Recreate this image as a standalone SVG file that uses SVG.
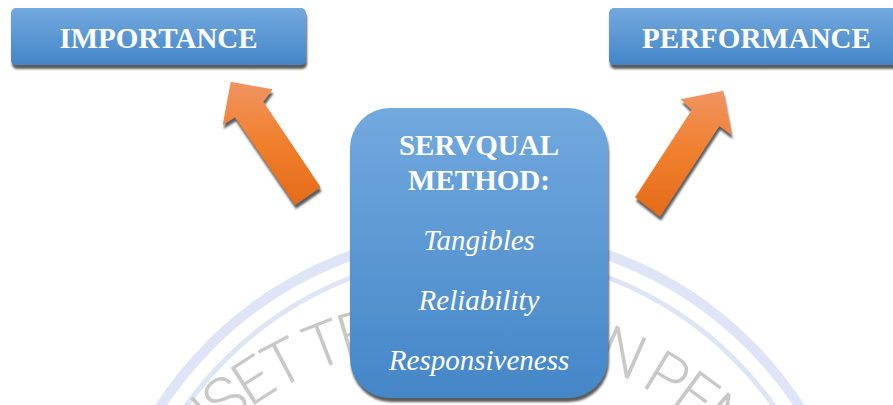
<svg xmlns="http://www.w3.org/2000/svg" xmlns:xlink="http://www.w3.org/1999/xlink" width="893" height="405" viewBox="0 0 893 405">
  <style>
    .box { fill: url(#boxFill); filter: url(#shadow); }
    .title { font-family: "Liberation Serif", "Times New Roman", serif; font-size: 29px; font-weight: bold; fill: #ffffff; text-anchor: middle; }
    .item { font-family: "Liberation Serif", "Times New Roman", serif; font-size: 29px; font-style: italic; fill: #ffffff; text-anchor: middle; }
    .arrow { fill: url(#arrowFill); filter: url(#shadow); }
    .band { fill: none; stroke: #dfe4f6; }
    .mark { font-family: Roboto, "Liberation Sans", sans-serif; font-weight: 300; font-size: 62px; fill: #c8c8c8; letter-spacing: -4px; }
  </style>
  <defs>
    <linearGradient id="boxFill" x1="0" y1="0" x2="0" y2="1">
      <stop offset="0" stop-color="#72a9de"/>
      <stop offset="1" stop-color="#4486c8"/>
    </linearGradient>
    <linearGradient id="arrowFill" x1="0" y1="0" x2="0" y2="1">
      <stop offset="0" stop-color="#f09462"/>
      <stop offset="0.5" stop-color="#f17f2c"/>
      <stop offset="1" stop-color="#e46b19"/>
    </linearGradient>
    <filter id="shadow" x="-10%" y="-10%" width="130%" height="130%">
      <feGaussianBlur in="SourceAlpha" stdDeviation="0.8"/>
      <feOffset dx="1" dy="3.5" result="off"/>
      <feFlood flood-color="#404040" flood-opacity="0.85"/>
      <feComposite in2="off" operator="in"/>
      <feMerge>
        <feMergeNode/>
        <feMergeNode in="SourceGraphic"/>
      </feMerge>
    </filter>
    <path id="sealText" d="M93.5,710 A369.5,369.5 0 0 1 832.5,710"/>
  </defs>

  <rect width="893" height="405" fill="#ffffff"/>

  <!-- faint seal in the background -->
  <g id="seal">
    <circle class="band" cx="480" cy="614" r="381" stroke-width="10"/>
    <circle class="band" cx="480" cy="614" r="360" stroke-width="5"/>
    <text class="mark"><textPath xlink:href="#sealText" startOffset="308">ISET TE</textPath></text>
    <text class="mark"><textPath xlink:href="#sealText" startOffset="713">N PEN</textPath></text>
  </g>

  <!-- connectors -->
  <g id="connectors">
    <polygon class="arrow" points="230.7,81.7 272.7,89.3 263.3,101.7 320.7,187.3 295,205 235,117.3 222.7,125"/>
    <polygon class="arrow" points="723.3,90.7 731.7,135 719.3,126 660,216.7 635,197.3 691.7,110 680.7,99.3"/>
  </g>

  <g id="importance">
    <rect class="box" x="11" y="8" width="295" height="57" rx="5"/>
    <text class="title" x="158.5" y="48">IMPORTANCE</text>
  </g>

  <g id="performance">
    <rect class="box" x="609" y="8" width="295" height="57" rx="5"/>
    <text class="title" x="756.5" y="48">PERFORMANCE</text>
  </g>

  <g id="servqual">
    <rect class="box" x="350" y="108" width="258" height="290" rx="40"/>
    <text class="title" x="479" y="155">SERVQUAL</text>
    <text class="title" x="479" y="190">METHOD:</text>
    <text class="item" x="479" y="250">Tangibles</text>
    <text class="item" x="479" y="310">Reliability</text>
    <text class="item" x="479" y="370">Responsiveness</text>
  </g>
</svg>
